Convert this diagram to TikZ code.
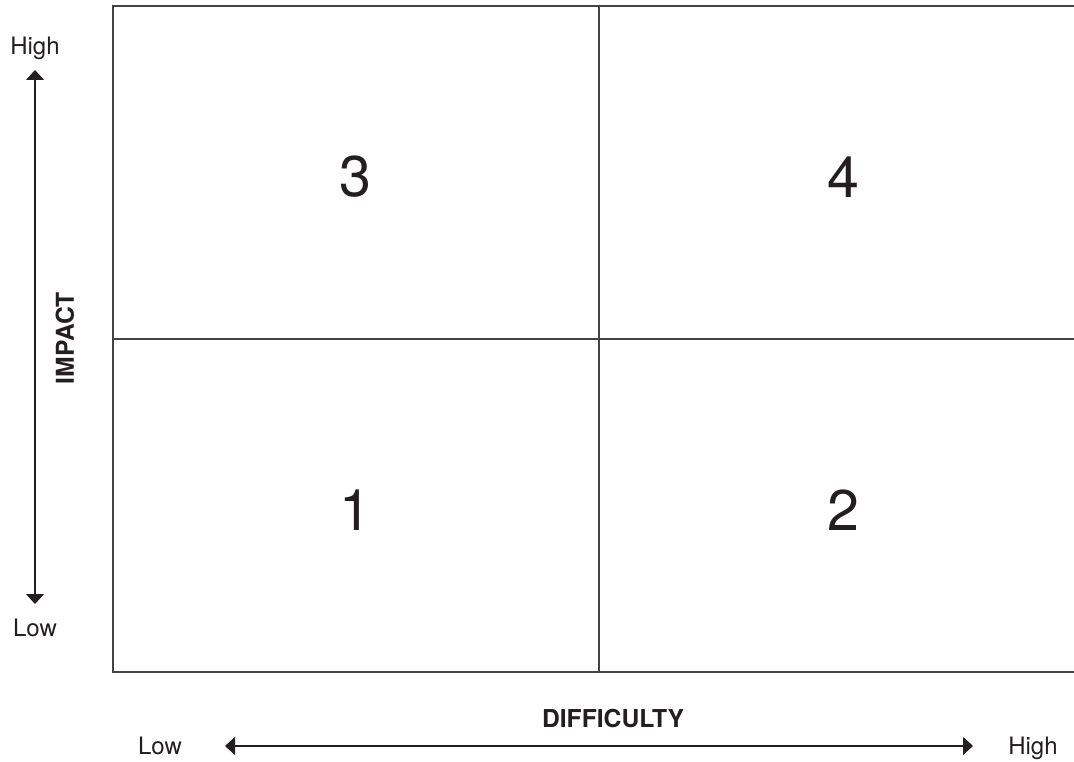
\documentclass[tikz,border=0pt]{standalone}
\usepackage{fontspec}
\setmainfont{TeX Gyre Heros}
\usepackage{xcolor}
\usetikzlibrary{arrows.meta,positioning}

\definecolor{inkgray}{HTML}{231F20}
\definecolor{framegray}{HTML}{444444}

\begin{document}
\begin{tikzpicture}[
    x=0.75pt, y=-0.75pt,
    frame/.style={draw=framegray, line width=1.1pt},
    divider/.style={draw=framegray, line width=0.8pt},
    quad/.style={text=inkgray, font=\fontsize{43}{50}\selectfont, anchor=center},
    lab/.style={text=inkgray, font=\fontsize{18}{21}\selectfont, anchor=base, inner sep=0pt},
    axis/.style={text=inkgray, font=\fontsize{18.5}{21}\selectfont\bfseries, anchor=base, inner sep=0pt},
    arr/.style={{Triangle[length=7.5pt,width=13.5pt]}-{Triangle[length=7.5pt,width=13.5pt]}, draw=inkgray, line width=0.8pt}
  ]
    \useasboundingbox (0,0) rectangle (1074,762);

    % matrix frame (open on the right)
    \coordinate (tl) at (113,6);
    \coordinate (bl) at (113,672);
    \coordinate (tr) at (1074,6);
    \coordinate (br) at (1074,672);
    \draw[frame] (tr) -- (tl) -- (bl) -- (br);

    \coordinate (vtop) at (599,6);
    \coordinate (vbot) at (599,672);
    \coordinate (hleft) at (113,339);
    \coordinate (hright) at (1074,339);
    \draw[divider] (vtop) -- (vbot);
    \draw[divider] (hleft) -- (hright);

    % quadrant numbers
    \node[quad] (q3) at (355,177) {3};
    \node[quad] (q4) at (843,177) {4};
    \node[quad] (q1) at (355,510) {1};
    \node[quad] (q2) at (843,510) {2};

    % impact axis
    \node[lab] (imphigh) at (35,55) {High};
    \node[lab] (implow) at (35,636) {Low};
    \coordinate (imptop) at (35,70);
    \coordinate (impbot) at (35,604);
    \draw[arr] (impbot) -- (imptop);
    \node[axis, anchor=center, rotate=90] (impact) at (65,338) {IMPACT};

    % difficulty axis
    \node[axis] (difficulty) at (613,727) {DIFFICULTY};
    \node[lab] (difflow) at (160,754) {Low};
    \node[lab] (diffhigh) at (1033,754) {High};
    \coordinate (diffleft) at (225,746);
    \coordinate (diffright) at (973,746);
    \draw[arr] (diffleft) -- (diffright);
  \end{tikzpicture}
\end{document}
